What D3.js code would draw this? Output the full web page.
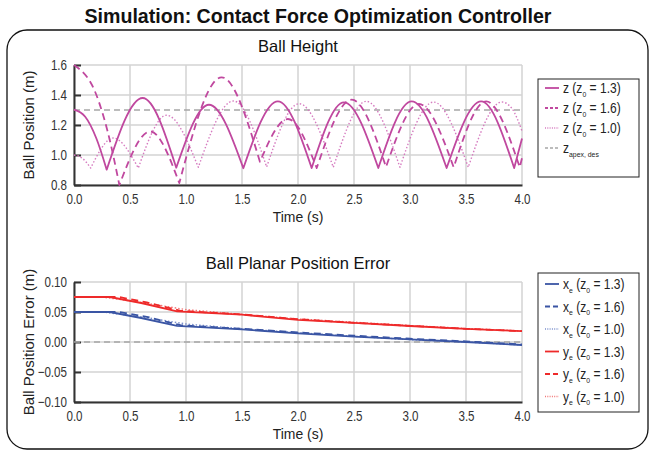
<!DOCTYPE html>
<html><head><meta charset="utf-8">
<script src="https://cdn.jsdelivr.net/npm/d3@7"></script>
<style>
body{margin:0;background:#fff}
text{font-family:"Liberation Sans",Arial,sans-serif;fill:#222}
</style>
</head><body>
<svg id="c" width="652" height="452"></svg>
<script>
// ---------- data ----------
const timeTicks = [0, 0.5, 1.0, 1.5, 2.0, 2.5, 3.0, 3.5, 4.0];
const heightTicks = [0.8, 1.0, 1.2, 1.4, 1.6];
const errorTicks = [-0.10, -0.05, 0.00, 0.05, 0.10];
const zApexDes = 1.3;
const errorRef = 0.0;

// Ball height, z0 = 1.3 (key points)
const z13_t = [0, 0.10, 0.20, 0.292, 0.613, 0.913, 1.205, 1.512, 1.82, 2.122, 2.41, 2.717, 3.015, 3.327, 3.635, 3.93, 4.0];
const z13_z = [1.302, 1.255, 1.11, 0.902, 1.38, 0.915, 1.335, 0.912, 1.358, 0.913, 1.351, 0.913, 1.357, 0.913, 1.357, 0.913, 1.11];
// Ball height, z0 = 1.6
const z16_t = [0, 0.20, 0.30, 0.405, 0.68, 0.94, 1.318, 1.66, 1.91, 2.167, 2.48, 2.786, 3.08, 3.39, 3.68, 3.98, 4.0];
const z16_z = [1.6, 1.40, 1.158, 0.80, 1.157, 0.813, 1.518, 0.955, 1.24, 0.913, 1.369, 0.92, 1.34, 0.918, 1.357, 0.918, 0.98];
// Ball height, z0 = 1.0
const z10_t = [0, 0.075, 0.149, 0.351, 0.574, 0.827, 1.11, 1.423, 1.72, 2.01, 2.315, 2.61, 2.91, 3.21, 3.52, 3.82, 3.91, 4.0];
const z10_z = [1.0, 0.978, 0.913, 1.113, 0.913, 1.265, 0.918, 1.36, 0.92, 1.342, 0.918, 1.358, 0.918, 1.353, 0.918, 1.353, 1.31, 1.16];

// Planar position error
const err_t13 = [0, 0.32, 0.6, 0.92, 1.5, 2.0, 2.5, 3.0, 3.5, 4.0];
const err_t16 = [0, 0.40, 0.65, 0.95, 1.5, 2.0, 2.5, 3.0, 3.5, 4.0];
const err_t10 = [0, 0.25, 0.6, 1.0, 1.5, 2.0, 2.5, 3.0, 3.5, 4.0];
const xe13 = [0.050, 0.050, 0.040, 0.027, 0.021, 0.0145, 0.009, 0.0045, 0.000, -0.005];
const xe16 = [0.050, 0.050, 0.042, 0.028, 0.022, 0.016, 0.0105, 0.0055, 0.001, -0.004];
const xe10 = [0.050, 0.050, 0.042, 0.030, 0.022, 0.0155, 0.0095, 0.004, 0.000, -0.005];
const ye13 = [0.075, 0.075, 0.065, 0.051, 0.0455, 0.037, 0.032, 0.0267, 0.022, 0.018];
const ye16 = [0.075, 0.075, 0.066, 0.052, 0.046, 0.038, 0.032, 0.027, 0.022, 0.018];
const ye10 = [0.075, 0.075, 0.066, 0.054, 0.046, 0.0385, 0.033, 0.0275, 0.0225, 0.0185];

// ---------- styles ----------
const MAG = "#c0489f", MAG_LIGHT = "#d67cc0";
const BLUE = "#3a55a4", BLUE_LIGHT = "#7a8fcc";
const RED = "#ee2a2a", RED_LIGHT = "#f27878";
const GRID = "#d3d3d3", REF = "#a6a6a6";
const CONDENSE = 0.8;

const svg = d3.select("#c");

// outer rounded frame
svg.append("rect").attr("x", 7).attr("y", 30).attr("width", 641).attr("height", 419)
  .attr("rx", 20).attr("fill", "none").attr("stroke", "#111").attr("stroke-width", 1.3);

svg.append("text").attr("x", 318).attr("y", 23).attr("text-anchor", "middle")
  .attr("font-size", 19.6).attr("font-weight", "bold")
  .style("fill", "#111").text("Simulation: Contact Force Optimization Controller");

const X0 = 74, X1 = 522;
const x = d3.scaleLinear().domain([0, 4]).range([X0, X1]);

function panel(top, bottom, yDomain, yTicks, fmt, title, ylabel) {
  const y = d3.scaleLinear().domain(yDomain).range([bottom, top]);
  const g = svg.append("g");
  // grid
  g.selectAll(".vg").data(timeTicks).join("line")
    .attr("x1", d => x(d)).attr("x2", d => x(d)).attr("y1", top).attr("y2", bottom)
    .attr("stroke", GRID).attr("stroke-width", 1.5);
  g.selectAll(".hg").data(yTicks).join("line")
    .attr("x1", X0).attr("x2", X1).attr("y1", d => y(d)).attr("y2", d => y(d))
    .attr("stroke", GRID).attr("stroke-width", 1.5);
  // y axis (inner ticks)
  const ya = d3.axisLeft(y).tickValues(yTicks).tickFormat(fmt).tickSizeInner(-7).tickSizeOuter(0).tickPadding(8);
  const yg = g.append("g").attr("transform", `translate(${X0},0)`).call(ya);
  yg.select(".domain").attr("stroke", "#333").attr("stroke-width", 2);
  yg.selectAll(".tick line").attr("stroke", "#333").attr("stroke-width", 2);
  yg.selectAll("text").attr("font-size", 14.5).style("fill", "#333")
    .attr("x", 0).attr("transform", `translate(-7,0) scale(${CONDENSE},1)`)
    .style("font-family", "'Liberation Sans',Arial,sans-serif");
  // x axis
  const xa = d3.axisBottom(x).tickValues(timeTicks).tickFormat(d3.format(".1f")).tickSize(0).tickPadding(9);
  const xg = g.append("g").attr("transform", `translate(0,${bottom})`).call(xa);
  xg.select(".domain").attr("stroke", "#333").attr("stroke-width", 2);
  xg.selectAll("text").attr("font-size", 14.5).style("fill", "#333")
    .attr("transform", `scale(${CONDENSE},1)`)
    .style("font-family", "'Liberation Sans',Arial,sans-serif");
  // labels
  g.append("text").attr("x", (X0 + X1) / 2).attr("y", top - 13).attr("text-anchor", "middle")
    .attr("font-size", 16.5).style("fill", "#111").text(title);
  g.append("text").attr("text-anchor", "middle").attr("font-size", 15.5)
    .attr("transform", `translate(${(X0 + X1) / 2},${bottom + 37}) scale(0.9,1)`).text("Time (s)");
  g.append("text").attr("transform", `translate(34,${(top + bottom) / 2}) rotate(-90)`)
    .attr("text-anchor", "middle").attr("font-size", 15).text(ylabel);
  return {g, y};
}

const P1 = panel(65, 185, [0.8, 1.6], heightTicks, d3.format(".1f"), "Ball Height", "Ball Position (m)");
const P2 = panel(282, 402, [-0.10, 0.10], errorTicks, d3.format(".2f"), "Ball Planar Position Error", "Ball Position Error (m)");

// reference lines
P1.g.append("line").attr("x1", X0).attr("x2", X1).attr("y1", P1.y(zApexDes)).attr("y2", P1.y(zApexDes))
  .attr("stroke", REF).attr("stroke-width", 1.6).attr("stroke-dasharray", "6,4");
P2.g.append("line").attr("x1", X0).attr("x2", X1).attr("y1", P2.y(errorRef)).attr("y2", P2.y(errorRef))
  .attr("stroke", REF).attr("stroke-width", 1.6).attr("stroke-dasharray", "6,4");

// bouncing arcs: split at bounce points (local minima), smooth each arc
function arcPath(ts, zs, y) {
  const pts = ts.map((t, i) => [x(t), y(zs[i])]);
  const cuts = [0];
  for (let i = 1; i < zs.length - 1; i++) if (zs[i] < zs[i - 1] && zs[i] < zs[i + 1]) cuts.push(i);
  cuts.push(zs.length - 1);
  const gen = d3.line().curve(d3.curveMonotoneX);
  let d = "";
  for (let k = 0; k < cuts.length - 1; k++) {
    const seg = pts.slice(cuts[k], cuts[k + 1] + 1);
    let s = gen(seg);
    if (k > 0) s = "L" + s.slice(1);
    d += s;
  }
  return d;
}
const heightSeries = [
  {t: z10_t, z: z10_z, color: MAG_LIGHT, w: 1.4, dash: "1.5,2"},
  {t: z16_t, z: z16_z, color: MAG, w: 1.8, dash: "7,4.5"},
  {t: z13_t, z: z13_z, color: MAG, w: 1.8, dash: null},
];
heightSeries.forEach(s => {
  P1.g.append("path").attr("d", arcPath(s.t, s.z, P1.y)).attr("fill", "none")
    .attr("stroke", s.color).attr("stroke-width", s.w).attr("stroke-dasharray", s.dash)
    .attr("stroke-linejoin", "round");
});

const errLine = d3.line().x(d => x(d[0])).y(d => P2.y(d[1]));
const errSeries = [
  {t: err_t10, v: xe10, color: BLUE_LIGHT, w: 1.4, dash: "1.5,2"},
  {t: err_t16, v: xe16, color: BLUE, w: 1.8, dash: "7,4.5"},
  {t: err_t13, v: xe13, color: BLUE, w: 1.8, dash: null},
  {t: err_t10, v: ye10, color: RED_LIGHT, w: 1.4, dash: "1.5,2"},
  {t: err_t16, v: ye16, color: RED, w: 1.8, dash: "7,4.5"},
  {t: err_t13, v: ye13, color: RED, w: 1.8, dash: null},
];
errSeries.forEach(s => {
  P2.g.append("path").attr("d", errLine(s.t.map((t, i) => [t, s.v[i]]))).attr("fill", "none")
    .attr("stroke", s.color).attr("stroke-width", s.w).attr("stroke-dasharray", s.dash);
});

// legends
function legend(bx, by, bw, bh, rows, y0, dy) {
  const g = svg.append("g");
  g.append("rect").attr("x", bx).attr("y", by).attr("width", bw).attr("height", bh)
    .attr("fill", "#fff").attr("stroke", "#222").attr("stroke-width", 1);
  rows.forEach((r, i) => {
    const cy = y0 + i * dy;
    g.append("line").attr("x1", bx + 7).attr("x2", bx + 21).attr("y1", cy).attr("y2", cy)
      .attr("stroke", r.color).attr("stroke-width", r.w).attr("stroke-dasharray", r.dash);
    const t = g.append("text").attr("x", 0).attr("y", 0).attr("font-size", 14)
      .attr("transform", `translate(${bx + 25},${cy + 5}) scale(0.86,1)`);
    r.parts.forEach(p => {
      const ts = t.append("tspan").text(p[0]);
      if (p[1] === "sub") ts.attr("font-size", 8).attr("dy", 3.5);
      if (p[1] === "up") ts.attr("dy", -3.5);
    });
  });
}
function lbl(sym, symSub, val) {
  const parts = [[sym, ""]];
  if (symSub) parts.push([symSub, "sub"]);
  parts.push([" (z", symSub ? "up" : ""]);
  parts.push(["0", "sub"]);
  parts.push([" = " + val + ")", "up"]);
  return parts;
}
legend(538, 79, 101, 98, [
  {color: MAG, w: 1.8, dash: null, parts: lbl("z", null, "1.3")},
  {color: MAG, w: 1.8, dash: "3,2", parts: lbl("z", null, "1.6")},
  {color: MAG_LIGHT, w: 1.4, dash: "1,1.3", parts: lbl("z", null, "1.0")},
  {color: REF, w: 1.6, dash: "3,2", parts: [["z", ""], ["apex, des", "sub"]]},
], 88, 20);
legend(538, 273, 101, 139, [
  {color: BLUE, w: 1.8, dash: null, parts: lbl("x", "e", "1.3")},
  {color: BLUE, w: 1.8, dash: "5,3", parts: lbl("x", "e", "1.6")},
  {color: BLUE_LIGHT, w: 1.4, dash: "1,1.3", parts: lbl("x", "e", "1.0")},
  {color: RED, w: 1.8, dash: null, parts: lbl("y", "e", "1.3")},
  {color: RED, w: 1.8, dash: "5,3", parts: lbl("y", "e", "1.6")},
  {color: RED_LIGHT, w: 1.4, dash: "1,1.3", parts: lbl("y", "e", "1.0")},
], 284, 22.5);
</script>
</body></html>
